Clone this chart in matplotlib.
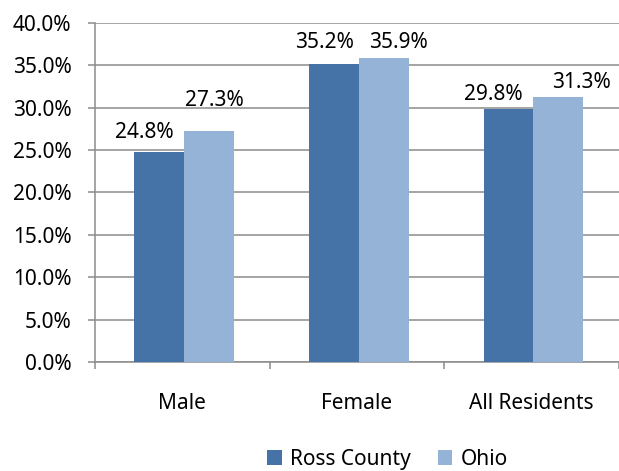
#!/usr/bin/env python3

import matplotlib

matplotlib.use("Agg")
import matplotlib.pyplot as plt
import numpy as np
from matplotlib.ticker import FixedLocator, PercentFormatter

CATEGORIES = ["Male", "Female", "All Residents"]
SERIES_NAMES = ["Ross County", "Ohio"]
ROSS_COUNTY = [24.8, 35.2, 29.8]
OHIO = [27.3, 35.9, 31.3]

COLORS = ["#4573A7", "#95B3D7"]  # dark / light blue
GRID_COLOR = "#8C8C8C"
BAR_WIDTH = 0.285
FONT_SIZE = 15

# label nudges (points) relative to bar top centre, as in the original
LABEL_NUDGE = [
    [(-11, 10), (4, 18)],
    [(-7, 11), (11, 7)],
    [(-11, 6.5), (17, 6.5)],
]


def main() -> None:
    plt.rcParams["font.family"] = ["Noto Sans", "DejaVu Sans"]
    fig = plt.figure(figsize=(6.19, 4.71), dpi=100)
    ax = fig.add_axes([0.1535, 0.2314, 0.8465, 0.7198])

    x = np.arange(len(CATEGORIES))
    values = [ROSS_COUNTY, OHIO]
    offsets = [-BAR_WIDTH / 2, BAR_WIDTH / 2]
    bars = []
    for i, (name, vals) in enumerate(zip(SERIES_NAMES, values)):
        b = ax.bar(x + offsets[i] + 0.01, vals, BAR_WIDTH, color=COLORS[i], label=name,
                   zorder=3, edgecolor="none")
        bars.append(b)

    for i, b in enumerate(bars):
        for j, rect in enumerate(b):
            dx, dy = LABEL_NUDGE[j][i]
            ax.annotate(f"{values[i][j]:.1f}%",
                        (rect.get_x() + rect.get_width() / 2, rect.get_height()),
                        xytext=(dx, dy), textcoords="offset points",
                        ha="center", va="baseline", fontsize=FONT_SIZE, color="#000000")

    ax.set_xlim(-0.5, 2.5)
    ax.set_ylim(0, 40)
    ax.yaxis.set_major_locator(FixedLocator(np.arange(0, 41, 5)))
    ax.yaxis.set_major_formatter(PercentFormatter(decimals=1))
    ax.grid(axis="y", color=GRID_COLOR, linewidth=1.1, zorder=0)

    # category boundaries as major ticks, labels on minor ticks
    ax.xaxis.set_major_locator(FixedLocator([-0.5, 0.5, 1.5, 2.5]))
    ax.xaxis.set_major_formatter(plt.NullFormatter())
    ax.xaxis.set_minor_locator(FixedLocator(x))
    ax.set_xticklabels(CATEGORIES, minor=True)
    ax.tick_params(axis="x", which="major", length=5, width=1.1, color=GRID_COLOR,
                   direction="out")
    ax.tick_params(axis="x", which="minor", length=0, pad=22, labelsize=FONT_SIZE)
    ax.tick_params(axis="y", length=5, width=1.1, color=GRID_COLOR, pad=12,
                   labelsize=FONT_SIZE)

    for side in ["top", "right"]:
        ax.spines[side].set_visible(False)
    for side in ["left", "bottom"]:
        ax.spines[side].set_color(GRID_COLOR)
        ax.spines[side].set_linewidth(1.1)

    fig.legend(loc="center", bbox_to_anchor=(0.626, 0.025), ncol=2, frameon=False,
               fontsize=FONT_SIZE, handlelength=0.68, handleheight=0.68,
               handletextpad=0.4, columnspacing=1.3, borderaxespad=0)

    fig.savefig("out.png", dpi=100)


if __name__ == "__main__":
    main()
